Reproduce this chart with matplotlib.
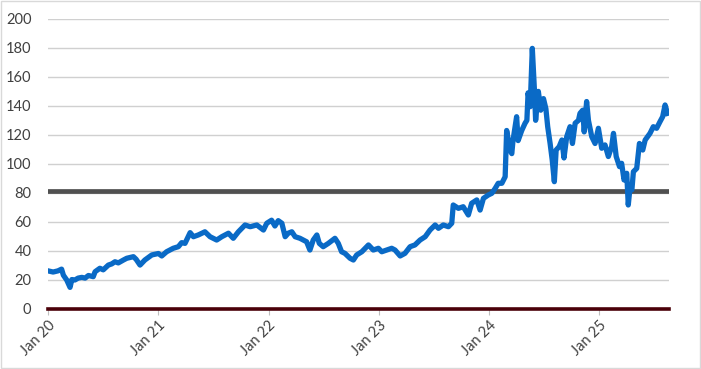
import matplotlib.pyplot as plt
import pandas as pd
from matplotlib.patches import Rectangle

# values
dates = [
    "2020-01-01", "2020-01-18", "2020-02-03", "2020-02-15", "2020-02-21", "2020-03-03",
    "2020-03-14", "2020-03-20", "2020-03-30", "2020-04-10", "2020-04-22", "2020-05-03",
    "2020-05-14", "2020-05-30", "2020-06-05", "2020-06-21", "2020-07-02", "2020-07-19",
    "2020-07-30", "2020-08-10", "2020-08-21", "2020-09-07", "2020-09-18", "2020-10-10",
    "2020-10-19", "2020-11-01", "2020-11-17", "2020-12-10", "2021-01-01", "2021-01-12",
    "2021-01-28", "2021-02-19", "2021-03-08", "2021-03-19", "2021-03-30", "2021-04-16",
    "2021-04-27", "2021-05-13", "2021-06-04", "2021-06-21", "2021-07-13", "2021-07-30",
    "2021-08-21", "2021-09-06", "2021-09-23", "2021-10-15", "2021-11-01", "2021-11-23",
    "2021-12-15", "2021-12-26", "2022-01-11", "2022-01-22", "2022-02-02", "2022-02-14",
    "2022-02-25", "2022-03-07", "2022-03-19", "2022-03-30", "2022-04-15", "2022-04-26",
    "2022-05-07", "2022-05-18", "2022-05-29", "2022-06-10", "2022-06-18", "2022-07-01",
    "2022-07-18", "2022-08-09", "2022-08-20", "2022-08-31", "2022-09-11", "2022-09-28",
    "2022-10-09", "2022-10-20", "2022-11-06", "2022-11-28", "2022-12-14", "2022-12-31",
    "2023-01-11", "2023-01-28", "2023-02-13", "2023-02-24", "2023-03-13", "2023-03-29",
    "2023-04-15", "2023-05-01", "2023-05-18", "2023-06-04", "2023-06-20", "2023-07-07",
    "2023-07-18", "2023-08-03", "2023-08-20", "2023-08-31", "2023-09-05", "2023-09-22",
    "2023-10-08", "2023-10-25", "2023-11-05", "2023-11-22", "2023-12-03", "2023-12-14",
    "2023-12-30", "2024-01-11", "2024-01-22", "2024-02-01", "2024-02-13", "2024-02-24",
    "2024-02-29", "2024-03-11", "2024-03-17", "2024-03-21", "2024-04-02", "2024-04-07",
    "2024-04-19", "2024-04-30", "2024-05-06", "2024-05-10", "2024-05-17", "2024-05-24",
    "2024-05-31", "2024-06-04", "2024-06-13", "2024-06-21", "2024-06-30", "2024-07-08",
    "2024-07-14", "2024-07-22", "2024-07-29", "2024-08-05", "2024-08-11", "2024-08-21",
    "2024-08-30", "2024-09-06", "2024-09-15", "2024-09-26", "2024-10-04", "2024-10-13",
    "2024-10-24", "2024-10-29", "2024-11-07", "2024-11-12", "2024-11-20", "2024-11-26",
    "2024-12-07", "2024-12-18", "2024-12-29", "2025-01-09", "2025-01-20", "2025-01-31",
    "2025-02-11", "2025-02-17", "2025-02-26", "2025-03-09", "2025-03-16", "2025-03-24",
    "2025-04-02", "2025-04-07", "2025-04-13", "2025-04-19", "2025-04-24", "2025-05-05",
    "2025-05-14", "2025-05-25", "2025-06-02", "2025-06-18", "2025-06-29", "2025-07-10",
    "2025-07-21", "2025-07-30", "2025-08-07", "2025-08-15",
]
values = [
    26.0, 25.2, 26.0, 27.2, 23.0, 19.7,
    14.6, 20.0, 19.7, 21.0, 21.5, 21.0,
    22.8, 22.0, 25.4, 27.8, 26.7, 30.0,
    30.8, 32.3, 31.5, 33.5, 34.7, 35.8,
    34.0, 30.0, 33.5, 37.0, 38.0, 36.3,
    39.2, 41.6, 42.7, 45.5, 45.0, 52.4,
    49.6, 50.8, 53.0, 49.6, 47.3, 49.6,
    52.0, 48.5, 53.0, 57.7, 56.5, 57.7,
    54.2, 58.9, 61.0, 57.0, 60.7, 58.9,
    49.6, 52.0, 53.0, 49.6, 48.5, 47.3,
    46.1, 40.4, 47.3, 50.8, 45.0, 42.7,
    45.0, 48.5, 45.0, 39.2, 38.1, 34.7,
    33.5, 37.0, 39.2, 43.9, 40.4, 41.6,
    39.2, 40.4, 41.6, 40.4, 36.3, 38.1,
    42.7, 43.9, 47.3, 49.6, 54.2, 57.7,
    55.4, 57.7, 56.5, 58.9, 71.5, 69.2,
    70.3, 64.6, 72.7, 75.0, 68.0, 76.1,
    78.4, 79.6, 83.0, 86.5, 86.5, 91.0,
    123.0, 109.5, 107.0, 116.0, 132.5, 116.0,
    123.0, 128.0, 130.0, 149.0, 139.4, 179.7,
    151.0, 130.0, 150.0, 137.0, 145.0, 138.0,
    125.6, 114.0, 102.6, 87.6, 109.5, 111.8,
    116.4, 104.0, 118.7, 125.6, 114.0, 128.0,
    130.0, 134.8, 137.0, 122.0, 143.0, 130.0,
    118.7, 114.0, 124.5, 110.7, 113.0, 105.0,
    111.8, 121.0, 105.0, 98.0, 100.3, 88.8,
    93.4, 71.5, 84.0, 82.0, 94.5, 96.8,
    114.0, 109.5, 116.4, 121.0, 125.6, 124.5,
    129.0, 132.5, 140.6, 134.8,
]
ref_level = 81
tick_dates = ["2020-01-01", "2021-01-01", "2022-01-01", "2023-01-01", "2024-01-01", "2025-01-01"]
tick_labels = ["Jan 20", "Jan 21", "Jan 22", "Jan 23", "Jan 24", "Jan 25"]

plt.rcParams['font.family'] = ['Lato', 'DejaVu Sans']

fig = plt.figure(figsize=(7.01, 3.69), dpi=100)
ax = fig.add_axes([48 / 701, 1 - 308.5 / 369, (669 - 48) / 701, (308.5 - 19) / 369])

x = pd.to_datetime(dates)
ax.set_yticks(range(0, 201, 20))
ax.grid(axis='y', color='#d0d0d0', linewidth=1)
ax.set_axisbelow(True)

ax.axhline(ref_level, color='#505050', linewidth=3.4, zorder=2)
ax.axhline(0, color='#4a0008', linewidth=2.6, zorder=2, clip_on=False)
ax.plot(x, values, color='#0a6ac6', linewidth=3.8, solid_joinstyle='round', zorder=3)

ax.set_ylim(0, 200)
ax.set_xlim(pd.Timestamp("2020-01-01"), pd.Timestamp("2025-08-20"))
ax.set_xticks(pd.to_datetime(tick_dates))
ax.set_xticklabels(tick_labels, rotation=45, ha='right', rotation_mode='anchor')

for s in ax.spines.values():
    s.set_visible(False)
ax.tick_params(axis='y', length=0, pad=12, labelsize=10.5, labelcolor='#404040')
ax.tick_params(axis='x', length=4, color='#bfbfbf', pad=3, labelsize=10.5, labelcolor='#404040')

fig.patches.append(Rectangle((0.001, 0.002), 0.997, 0.995, transform=fig.transFigure,
                             fill=False, edgecolor='#d9d9d9', linewidth=1))

plt.savefig('out.png', dpi=100)
